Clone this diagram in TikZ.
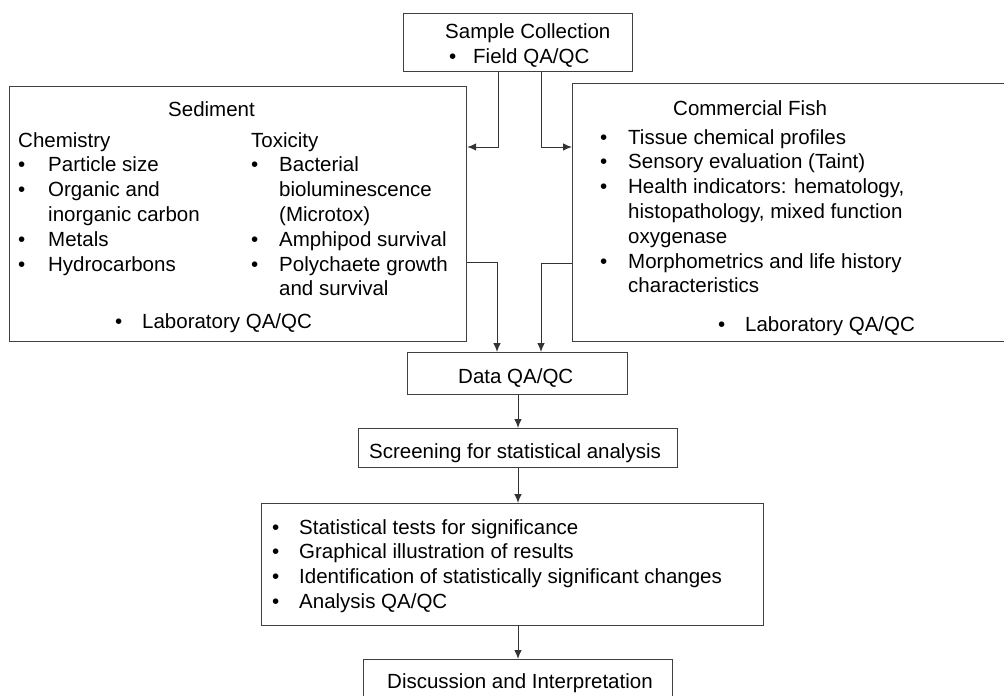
\documentclass[tikz,border=0pt]{standalone}
\usepackage{fontspec}
\setmainfont{Liberation Sans}
\usetikzlibrary{arrows.meta}
\newcommand\blist[2]{\begin{tabular}[t]{@{}p{#1}@{}l@{}}#2\end{tabular}}
\tikzset{
  box/.style 2 args={draw=black!75, line width=1.2pt, anchor=north west, inner sep=0pt,
    minimum width=#1pt, minimum height=#2pt},
  txt/.style={anchor=base west, inner sep=0pt, font=\fontsize{20.5}{24.8}\selectfont},
  conn/.style={draw=black!80, line width=1pt, -{Latex[length=9pt,width=7.5pt]}}
}
\begin{document}
\begin{tikzpicture}[x=1pt,y=-1pt]
\useasboundingbox (0,0) rectangle (1004,696);
\clip (0,0) rectangle (1004,696);
\node[box={229}{58}] (sample) at (403,13) {};
\node[box={457}{255}] (sed) at (9,86) {};
\node[box={440}{258}] (fish) at (572,83) {};
\node[box={220}{42}] (data) at (407,352) {};
\node[box={319}{39}] (screen) at (358,428) {};
\node[box={502}{122}] (stats) at (261,503) {};
\node[box={309}{50}] (disc) at (363,659) {};
\node[txt] (sampletitle) at (445,38) {Sample Collection};
\node[txt] (samplefield) at (449,63) {\blist{24pt}{•&Field QA/QC}};
\node[txt] (sedtitle) at (168,116) {Sediment};
\node[txt] (chem) at (18,147) {\blist{30pt}{\multicolumn{2}{@{}l@{}}{Chemistry}\\
  •&Particle size\\•&Organic and\\&inorganic carbon\\•&Metals\\•&Hydrocarbons}};
\node[txt] (tox) at (251,147) {\blist{28pt}{\multicolumn{2}{@{}l@{}}{Toxicity}\\
  •&Bacterial\\&bioluminescence\\&(Microtox)\\•&Amphipod survival\\
  •&Polychaete growth\\&and survival}};
\node[txt] (sedlab) at (115,328) {\blist{27pt}{•&Laboratory QA/QC}};
\node[txt] (fishtitle) at (673,115) {Commercial Fish};
\node[txt] (fishlist) at (600,144) {\blist{28pt}{•&Tissue chemical profiles\\
  •&Sensory evaluation (Taint)\\•&Health indicators: hematology,\\
  &histopathology, mixed function\\&oxygenase\\
  •&Morphometrics and life history\\&characteristics}};
\node[txt] (fishlab) at (718,331) {\blist{27pt}{•&Laboratory QA/QC}};
\node[txt] (datatxt) at (458,383) {Data QA/QC};
\node[txt] (screentxt) at (369,458) {Screening for statistical analysis};
\node[txt] (statslist) at (272,534) {\blist{27pt}{•&Statistical tests for significance\\
  •&Graphical illustration of results\\
  •&Identification of statistically significant changes\\•&Analysis QA/QC}};
\node[txt] (disctxt) at (387,688) {Discussion and Interpretation};
\draw[conn] ([xshift=95pt]sample.south west) |- ([yshift=-61pt]sed.north east);
\draw[conn] ([xshift=138pt]sample.south west) |- ([yshift=-64pt]fish.north west);
\draw[conn] ([yshift=-176pt]sed.north east) -| ([xshift=90pt]data.north west);
\draw[conn] ([yshift=-180pt]fish.north west) -| ([xshift=134pt]data.north west);
\draw[conn] ([xshift=111pt]data.south west) -- ([xshift=160pt]screen.north west);
\draw[conn] ([xshift=160pt]screen.south west) -- ([xshift=257pt]stats.north west);
\draw[conn] ([xshift=257pt]stats.south west) -- ([xshift=155pt]disc.north west);
\end{tikzpicture}
\end{document}
